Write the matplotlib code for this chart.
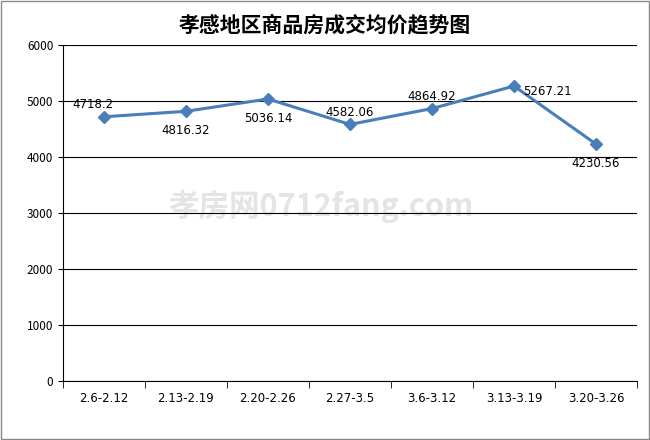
import matplotlib
matplotlib.use('Agg')
import matplotlib.pyplot as plt

plt.rcParams['font.family'] = ['Noto Sans CJK SC', 'DejaVu Sans']

categories = ['2.6-2.12', '2.13-2.19', '2.20-2.26', '2.27-3.5', '3.6-3.12', '3.13-3.19', '3.20-3.26']
values = [4718.2, 4816.32, 5036.14, 4582.06, 4864.92, 5267.21, 4230.56]
labels = ['4718.2', '4816.32', '5036.14', '4582.06', '4864.92', '5267.21', '4230.56']
offsets = [(-8, 4), (0, -14), (0, -14), (0, 4), (0, 4), (24, -4), (0, -14)]

fig = plt.figure(figsize=(6.5, 4.4), dpi=100)
ax = fig.add_axes([63/650, 1-381/440, 574/650, 336/440])
x = list(range(len(categories)))
ax.plot(x, values, color='#4a7ebb', lw=2.2, marker='D', ms=6, mfc='#4a7ebb', mec='#4a7ebb', zorder=3)
for xi, v, lab, (dx, dy) in zip(x, values, labels, offsets):
    ax.annotate(lab, (xi, v), xytext=(dx, dy), textcoords='offset points',
                ha='center', va='bottom' if dy > 0 else 'center', fontsize=8.5, family='DejaVu Sans')
ax.set_xlim(-0.5, len(categories) - 0.5)
ax.set_ylim(0, 6000)
ax.set_yticks(range(0, 6001, 1000))
ax.set_xticks(x)
ax.set_xticklabels(categories, fontsize=8.5, family='DejaVu Sans')
ax.tick_params(axis='y', labelsize=8.5)
ax.tick_params(axis='x', length=0, pad=8)
ax.set_xticks([i - 0.5 for i in range(len(categories) + 1)], minor=True)
ax.tick_params(axis='x', which='minor', length=5)
ax.grid(axis='y', color='black', lw=0.8)
for s in ['top', 'right']:
    ax.spines[s].set_visible(False)
ax.text(0.45, 0.52, '孝房网0712fang.com', transform=ax.transAxes, ha='center', va='center',
        fontsize=22, color='#e4e4e4', zorder=0, fontweight='bold')
fig.text(0.5, 1-25/440, '孝感地区商品房成交均价趋势图', ha='center', va='center', fontsize=15, fontweight='bold')
fig.patches.append(plt.Rectangle((0.002, 0.002), 0.996, 0.996, transform=fig.transFigure,
                                 fill=False, edgecolor='#888888', lw=1))
fig.savefig('out.png', dpi=100)
